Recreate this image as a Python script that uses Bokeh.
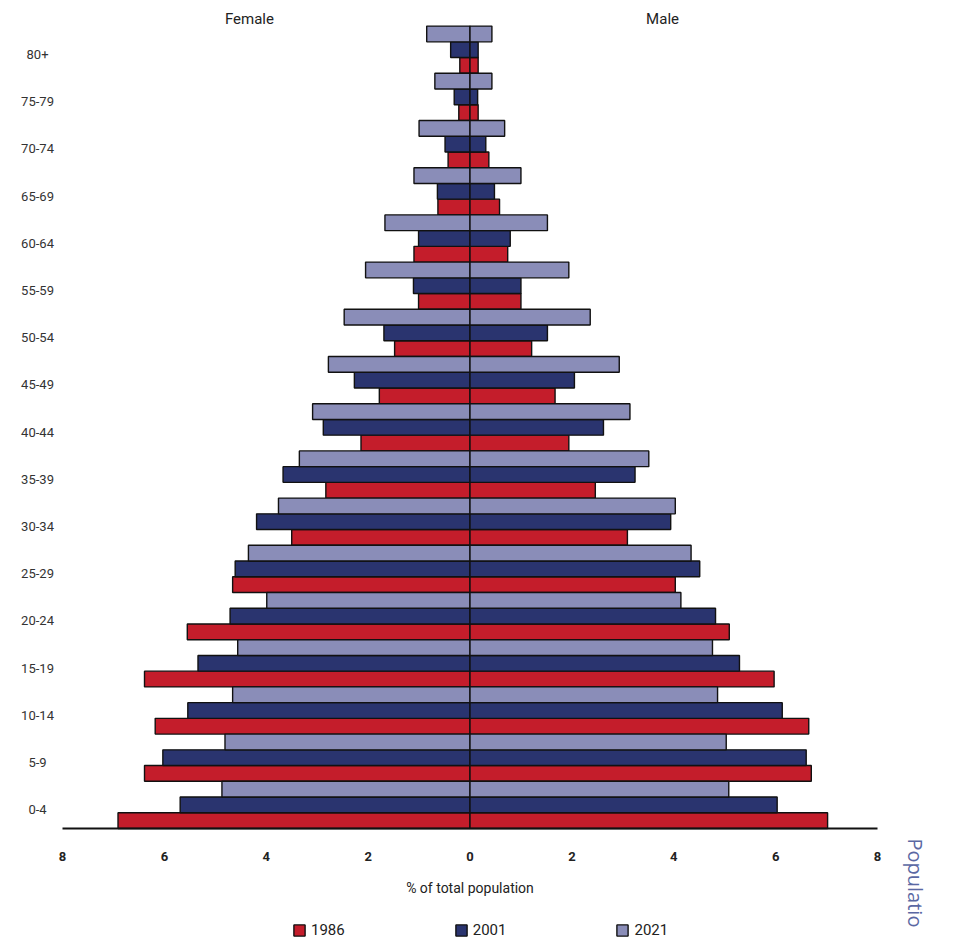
from math import pi
from bokeh.plotting import figure
from bokeh.models import Range1d, FixedTicker, Legend, LegendItem, Label
from bokeh.core.properties import value
from bokeh.embed import file_html
from bokeh.resources import INLINE

# ---------------- data ----------------
age_groups = ["0-4", "5-9", "10-14", "15-19", "20-24", "25-29", "30-34", "35-39",
              "40-44", "45-49", "50-54", "55-59", "60-64", "65-69", "70-74", "75-79", "80+"]
years = ["1986", "2001", "2021"]

female_1986 = [6.91, 6.39, 6.18, 6.39, 5.55, 4.66, 3.50, 2.83, 2.14, 1.78, 1.48, 1.01, 1.10, 0.63, 0.43, 0.22, 0.20]
male_1986   = [7.02, 6.70, 6.65, 5.97, 5.09, 4.03, 3.09, 2.46, 1.94, 1.67, 1.21, 1.00, 0.74, 0.58, 0.37, 0.16, 0.16]
female_2001 = [5.69, 6.03, 5.54, 5.34, 4.71, 4.61, 4.19, 3.67, 2.88, 2.27, 1.69, 1.11, 1.01, 0.64, 0.49, 0.31, 0.38]
male_2001   = [6.03, 6.60, 6.13, 5.29, 4.82, 4.51, 3.94, 3.24, 2.62, 2.05, 1.52, 1.00, 0.79, 0.48, 0.31, 0.15, 0.16]
female_2021 = [4.87, 4.81, 4.66, 4.56, 3.99, 4.35, 3.76, 3.35, 3.09, 2.78, 2.47, 2.05, 1.67, 1.10, 1.00, 0.69, 0.85]
male_2021   = [5.08, 5.03, 4.86, 4.76, 4.14, 4.34, 4.03, 3.51, 3.14, 2.93, 2.36, 1.94, 1.52, 1.00, 0.68, 0.43, 0.43]

x_ticks = [-8, -6, -4, -2, 0, 2, 4, 6, 8]
x_tick_labels = ["8", "6", "4", "2", "0", "2", "4", "6", "8"]
sides = ["Female", "Male"]
x_title = "% of total population"
side_note = "Populatio"

# ---------------- styling ----------------
FONT = "Roboto"
colors = {"1986": "#c41d2b", "2001": "#2a346f", "2021": "#8a8db8"}
offsets = {"1986": -1 / 3, "2001": 0.0, "2021": 1 / 3}
series = {
    "1986": (female_1986, male_1986),
    "2001": (female_2001, male_2001),
    "2021": (female_2021, male_2021),
}

p = figure(width=955, height=940, output_backend="svg", toolbar_location=None,
           x_range=Range1d(-9.217, 9.531), y_range=Range1d(-2.873, 16.873),
           min_border_left=0, min_border_right=0, min_border_top=8, min_border_bottom=0,
           background_fill_color="white", border_fill_color="white")
p.outline_line_color = None
p.xgrid.visible = False
p.ygrid.visible = False
p.yaxis.visible = False

items = []
for yr in years:
    fem, mal = series[yr]
    ys = [i + offsets[yr] for i in range(len(age_groups))]
    rf = p.hbar(y=ys, left=[-v for v in fem], right=0, height=1 / 3,
                fill_color=colors[yr], line_color="#111111", line_width=1.4)
    p.hbar(y=ys, left=0, right=mal, height=1 / 3,
           fill_color=colors[yr], line_color="#111111", line_width=1.4)
    items.append(LegendItem(label=yr, renderers=[rf]))

# age-group labels, centred in the left margin
p.text(x=[-8.49] * len(age_groups), y=[i - 0.1 for i in range(len(age_groups))], text=age_groups,
       text_align="center", text_baseline="middle", text_font=value(FONT),
       text_font_size="13px", text_color="#333333")

# x axis, drawn at the base of the bars
xa = p.xaxis[0]
xa.fixed_location = -0.5
xa.bounds = (x_ticks[0], x_ticks[-1])
xa.ticker = FixedTicker(ticks=x_ticks)
xa.major_label_overrides = dict(zip(x_ticks, x_tick_labels))
xa.axis_line_color = "#111111"
xa.axis_line_width = 2
xa.major_tick_line_color = None
xa.minor_tick_line_color = None
xa.major_tick_out = 0
xa.major_tick_in = 0
xa.major_label_standoff = 24
xa.major_label_text_font = FONT
xa.major_label_text_font_size = "13px"
xa.major_label_text_font_style = "bold"
xa.major_label_text_color = "#222222"
xa.axis_label = x_title
xa.axis_label_standoff = 15
xa.axis_label_text_font = FONT
xa.axis_label_text_font_size = "14px"
xa.axis_label_text_font_style = "normal"
xa.axis_label_text_color = "#222222"

# headers
for txt, xpos in zip(sides, [-4.33, 3.78]):
    p.add_layout(Label(x=xpos, y=16.66, text=txt, text_align="center", text_baseline="middle",
                       text_font=FONT, text_font_size="15px", text_color="#222222"))

# legend
legend = Legend(items=items, orientation="horizontal", location=(292, 1),
                spacing=109, glyph_width=14, glyph_height=14, label_standoff=5,
                padding=0, margin=0, border_line_color=None, background_fill_alpha=0,
                label_text_font=FONT, label_text_font_size="15px", label_text_color="#222222",
                label_height=14)
p.add_layout(legend, "center")

# side note
p.add_layout(Label(x=915, y=102, x_units="screen", y_units="screen", text=side_note,
                   angle=-pi / 2, text_align="left", text_baseline="middle",
                   text_font="Open Sans", text_font_size="20px", text_color="#5a68a3"))

open("out.html", "w").write(file_html(p, INLINE))
